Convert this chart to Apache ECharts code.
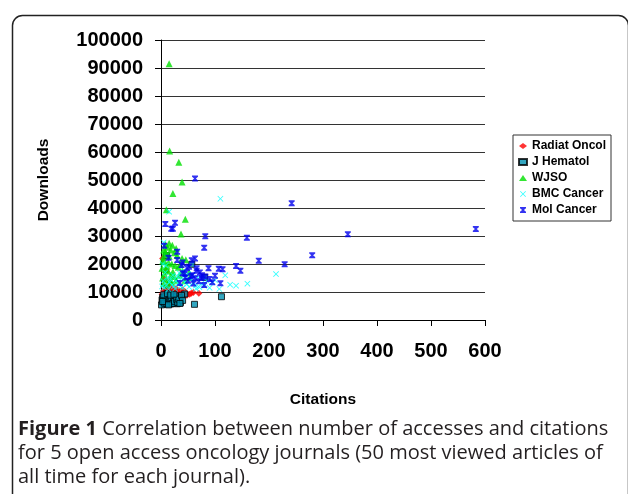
<!DOCTYPE html>
<html><head><meta charset="utf-8">
<script src="https://cdn.jsdelivr.net/npm/echarts@6/dist/echarts.min.js"></script>
<style>html,body{margin:0;padding:0;background:#fff}#c{width:628px;height:494px}</style>
</head><body><div id="c"></div>
<script>
var seriesNames = ['Radiat Oncol','J Hematol','WJSO','BMC Cancer','Mol Cancer'];
var xTicks = [0,100,200,300,400,500,600];
var yTicks = [0,10000,20000,30000,40000,50000,60000,70000,80000,90000,100000];

var radiatOncol = [[3,22000],[10,17500],[6,14500],[15,12500],[20,11800],[28,11200],[40,10800],[10,11000],[56,9530],[70,9530],[53,9200],[45,10000],[35,10200],[30,9800],[25,10000],[18,10300],[12,10600],[8,10100],[4,9800],[2,9200],[6,8800],[10,9000],[14,8600],[18,9200],[22,8800],[26,9400],[30,8600],[34,9000],[38,9600],[42,8400],[48,8800],[3,8200],[7,7800],[11,8000],[15,7600],[19,8000],[23,7400],[27,7800],[31,8200],[5,10500],[9,11800],[14,11300],[20,10600],[25,10400],[32,10400],[38,9300],[60,9800],[16,13500],[22,9900],[44,9600]];
var jHematol = [[10,23000],[57,19900],[81,15240],[112,8320],[62,5600],[44,9280],[2,7200],[4,6300],[6,5600],[8,6800],[10,7500],[12,6000],[14,6600],[16,7200],[18,5700],[20,6400],[22,7000],[24,6000],[26,7600],[28,6500],[30,5800],[32,7000],[34,8000],[36,6200],[1,5400],[3,8000],[5,7000],[7,6000],[9,8400],[11,5800],[13,7800],[15,8200],[17,6800],[19,7600],[21,5900],[23,8000],[25,6700],[27,8600],[29,7300],[31,6200],[33,7500],[38,8800],[40,7000],[5,9000],[12,9400],[18,8900],[3,6600],[14,5400],[24,9200],[35,5900]];
var wjso = [[15,91500],[16,60400],[33,56300],[39,49300],[22,45200],[10,39400],[45,36000],[37,30700],[15,27400],[21,26700],[8,27000],[12,26000],[18,25000],[25,24000],[30,23000],[5,25000],[10,23500],[39,22000],[46,21500],[3,21000],[14,20500],[20,20000],[26,19500],[32,18800],[2,18500],[8,18000],[13,17500],[40,17500],[52,17000],[6,16500],[18,16000],[24,15500],[34,16000],[53,15200],[3,15000],[10,14500],[16,14000],[28,14200],[44,14000],[5,13000],[12,12500],[20,13500],[8,24500],[4,22500],[15,22800],[28,25500],[11,19200],[36,19800],[22,17200],[7,20800]];
var bmcCancer = [[110,43300],[15,38700],[5,27700],[213,16400],[119,15950],[160,12960],[128,12600],[139,12250],[108,11070],[71,11670],[3,20000],[8,17000],[12,15000],[16,13500],[20,12500],[24,12000],[28,14000],[32,13000],[36,12000],[40,11500],[44,13500],[48,12800],[52,11800],[56,14500],[60,13500],[64,12200],[68,15200],[75,13000],[80,12200],[85,14000],[90,11500],[95,13500],[6,11500],[10,12500],[14,11000],[18,14500],[22,16000],[26,11200],[30,15500],[34,16800],[38,14800],[42,17500],[46,15800],[50,16500],[4,14000],[9,19500],[58,16200],[65,11200],[100,14200],[2,12000]];
var molCancer = [[63,50500],[242,41700],[8,34300],[26,34700],[19,32600],[22,32600],[583,32500],[346,30600],[82,29900],[159,29400],[6,26500],[80,25800],[30,24400],[280,23100],[181,21200],[229,19900],[139,19300],[147,17600],[114,18100],[63,22000],[57,21300],[14,22200],[30,21400],[66,18450],[66,17600],[107,18300],[40,16700],[63,14900],[110,13100],[82,15500],[75,15000],[80,12500],[50,14000],[45,15200],[35,13200],[72,17000],[88,18500],[58,16000],[52,19000],[95,13500],[44,16500],[40,20500],[55,15600],[70,13800],[90,14600],[48,18600],[38,19600],[76,16000],[60,13000],[100,15800]];

var captionBold = 'Figure 1';
var captionLines = [' Correlation between number of accesses and citations', 'for 5 open access oncology journals (50 most viewed articles of', 'all time for each journal).'];

var F = 'Arial, "Liberation Sans", sans-serif';
var xStar = 'path://M0,1L1,0L5,4L9,0L10,1L6,5L10,9L9,10L5,6L1,10L0,9L4,5Z';
var hourglass = 'path://M0,0L10,0L10,2L6.5,5L10,8L10,10L0,10L0,8L3.5,5L0,2Z';

var chart = echarts.init(document.getElementById('c'));
chart.setOption({
  animation: false,
  backgroundColor: '#fff',
  grid: {left: 161, right: 143, top: 40, bottom: 174, containLabel: false},
  xAxis: {
    type: 'value', min: xTicks[0], max: xTicks[xTicks.length-1], interval: 100,
    name: 'Citations', nameLocation: 'middle', nameGap: 72,
    nameTextStyle: {fontFamily: F, fontWeight: 'bold', fontSize: 15.5, color: '#000'},
    axisLine: {show: true, lineStyle: {color: '#000', width: 1}},
    axisTick: {show: true, length: 6, lineStyle: {color: '#000'}},
    axisLabel: {fontFamily: F, fontWeight: 'bold', fontSize: 20, color: '#000', margin: 21,
      formatter: function (v) { return String(v); }},
    splitLine: {show: false}
  },
  yAxis: {
    type: 'value', min: yTicks[0], max: yTicks[yTicks.length-1], interval: 10000,
    name: 'Downloads', nameLocation: 'middle', nameGap: 109,
    nameTextStyle: {fontFamily: F, fontWeight: 'bold', fontSize: 15.5, color: '#000'},
    axisLine: {show: true, lineStyle: {color: '#000', width: 1}},
    axisTick: {show: true, length: 6, lineStyle: {color: '#000'}},
    axisLabel: {fontFamily: F, fontWeight: 'bold', fontSize: 20, color: '#000', margin: 18,
      formatter: function (v) { return String(v); }},
    splitLine: {show: true, lineStyle: {color: '#333', width: 1}}
  },
  legend: {
    orient: 'vertical', left: 513, top: 135,
    padding: [4, 5, 4, 5], itemGap: 2, itemWidth: 8, itemHeight: 6,
    borderColor: '#333', borderWidth: 1, backgroundColor: '#fff',
    textStyle: {fontFamily: F, fontWeight: 'bold', fontSize: 12, color: '#000', lineHeight: 14},
    data: seriesNames
  },
  graphic: [
    {type: 'rect', left: 10, top: 13, shape: {width: 616, height: 520, r: 10}, style: {fill: 'none', stroke: '#222', lineWidth: 1.5}, silent: true},
    {type: 'text', left: 18, top: 419, style: {
      text: '{b|' + captionBold + '}{n|' + captionLines[0] + '}\n{n|' + captionLines[1] + '}\n{n|' + captionLines[2] + '}',
      rich: {
        b: {fontFamily: '"Open Sans", sans-serif', fontWeight: 'bold', fontSize: 20, fill: '#231f20', lineHeight: 24},
        n: {fontFamily: '"Open Sans", sans-serif', fontSize: 20, fill: '#231f20', lineHeight: 24}
      }
    }}
  ],
  series: [
    {name: seriesNames[0], type: 'scatter', data: radiatOncol, symbol: 'diamond', symbolSize: 7, itemStyle: {color: '#ff0000'}},
    {name: seriesNames[1], type: 'scatter', data: jHematol, symbol: 'rect', symbolSize: 6, itemStyle: {color: '#0090b0', borderColor: '#000', borderWidth: 1}},
    {name: seriesNames[2], type: 'scatter', data: wjso, symbol: 'triangle', symbolSize: 7, itemStyle: {color: '#00e000'}},
    {name: seriesNames[3], type: 'scatter', data: bmcCancer, symbol: xStar, symbolSize: 6, itemStyle: {color: '#00ffff'}},
    {name: seriesNames[4], type: 'scatter', data: molCancer, symbol: hourglass, symbolSize: 6, itemStyle: {color: '#0000ee'}}
  ]
});
</script></body></html>
